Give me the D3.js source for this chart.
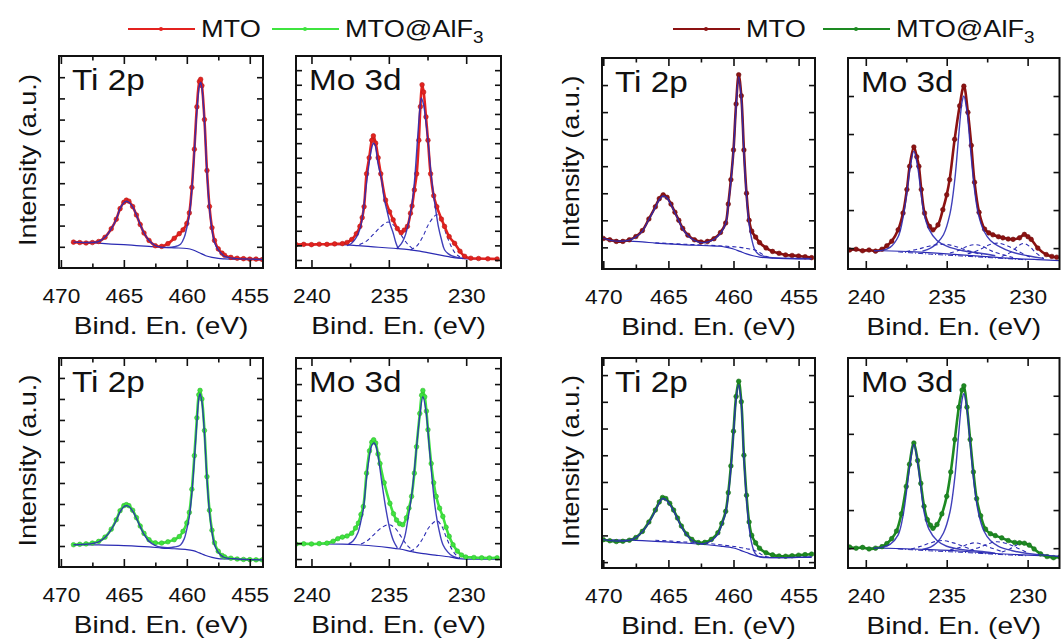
<!DOCTYPE html>
<html>
<head>
<meta charset="utf-8">
<script src="https://cdn.jsdelivr.net/npm/d3@7"></script>
<style>
  body { margin: 0; background: #fff; }
  svg { display: block; }
  text { font-family: "Liberation Sans", Arial, sans-serif; fill: #111; }
</style>
</head>
<body>
<div id="chart"></div>
<script>
// ---- legend / labels ----
const seriesNames = ["MTO", "MTO@AlF"];
const regionLabels = ["Ti 2p", "Mo 3d"];
const tiMajorTicks = [470, 465, 460, 455];
const tiMinorTicks = [467.5, 462.5, 457.5];
const moMajorTicks = [240, 235, 230];
const moMinorTicks = [237.5, 232.5];

// ---- left group, MTO (top row) ----  [binding energy, intensity a.u.]
const leftMtoTi = [[469.0,0.22],[468.5,0.2],[468.0,0.18],[467.5,0.2],[467.0,0.25],[466.5,0.45],[466.0,0.85],[465.6,1.3],[465.3,1.8],[465.0,2.1],[464.8,2.2],[464.6,2.15],[464.3,1.9],[464.0,1.5],[463.7,1.05],[463.4,0.65],[463.0,0.3],[462.5,0.05],[462.0,0.02],[461.5,0.15],[461.0,0.4],[460.6,0.62],[460.3,0.8],[460.0,1.1],[459.8,1.6],[459.6,2.8],[459.4,4.6],[459.2,6.6],[459.0,7.8],[458.9,7.9],[458.8,7.6],[458.6,6.0],[458.4,3.6],[458.2,1.9],[458.0,0.9],[457.8,0.3],[457.5,-0.1],[457.2,-0.3],[457.0,-0.4],[456.5,-0.5],[456.0,-0.54],[455.5,-0.56],[455.0,-0.58],[454.5,-0.58],[454.0,-0.6]];
const leftMtoTiFit = [[469.0,0.22],[468.0,0.2],[467.0,0.25],[466.5,0.45],[466.0,0.85],[465.6,1.3],[465.3,1.8],[465.0,2.08],[464.8,2.15],[464.6,2.1],[464.3,1.88],[464.0,1.5],[463.7,1.05],[463.4,0.65],[463.0,0.3],[462.5,0.06],[462.0,-0.02],[461.5,-0.03],[461.0,0.0],[460.5,0.12],[460.2,0.45],[460.0,0.9],[459.8,1.5],[459.6,2.7],[459.4,4.5],[459.2,6.4],[459.0,7.6],[458.9,7.75],[458.8,7.5],[458.6,5.9],[458.4,3.5],[458.2,1.8],[458.0,0.8],[457.8,0.2],[457.5,-0.15],[457.2,-0.35],[457.0,-0.45],[456.5,-0.52],[456.0,-0.56],[455.0,-0.58],[454.0,-0.6]];
const leftMtoTiBg = [[469.0,0.22],[468,0.2],[467,0.17],[466,0.13],[465,0.1],[464,0.06],[463,0.02],[462,-0.02],[461,-0.05],[460,-0.08],[459.5,-0.15],[459,-0.28],[458.5,-0.42],[458,-0.5],[457.5,-0.55],[457,-0.57],[456,-0.59],[455,-0.6]];

const leftMtoMo = [[241.0,1.05],[240.5,1.07],[240.0,1.05],[239.5,1.08],[239.0,1.07],[238.5,1.1],[238.0,1.12],[237.7,1.2],[237.4,1.4],[237.1,1.8],[236.87,2.3],[236.72,2.9],[236.6,3.65],[236.44,5.9],[236.27,7.0],[236.1,8.2],[236.0,8.5],[235.85,8.0],[235.69,7.0],[235.52,5.9],[235.21,4.1],[234.95,3.3],[234.72,2.75],[234.45,2.15],[234.2,1.87],[234.0,2.05],[233.8,2.3],[233.6,3.2],[233.5,3.7],[233.35,4.8],[233.2,5.9],[233.06,8.2],[232.96,10.5],[232.85,12.0],[232.75,11.5],[232.6,9.8],[232.47,8.2],[232.3,5.9],[232.1,4.4],[231.9,3.65],[231.6,2.8],[231.4,2.3],[231.1,1.6],[230.75,1.14],[230.4,0.6],[230.1,0.25],[229.7,0.12],[229.2,0.1],[228.6,0.08],[228.0,0.07]];
const leftMtoMoPeakA = [[237.7,0.98],[237.4,1.15],[237.1,1.55],[236.87,2.1],[236.7,3.0],[236.55,4.3],[236.4,5.6],[236.25,6.8],[236.1,7.7],[236.0,8.0],[235.9,7.9],[235.7,6.6],[235.47,5.5],[235.3,4.2],[235.08,3.2],[234.9,2.4],[234.72,1.85],[234.55,1.2],[234.4,0.78]];
const leftMtoMoPeakB = [[234.5,0.76],[234.2,1.1],[234.0,1.5],[233.8,2.2],[233.53,3.65],[233.35,5.3],[233.15,8.2],[233.0,10.3],[232.9,11.1],[232.75,10.6],[232.6,9.4],[232.47,8.2],[232.3,6.2],[232.14,4.7],[231.95,3.3],[231.8,2.3],[231.6,1.4],[231.4,0.7],[231.15,0.42],[230.95,0.3],[230.6,0.18],[230.2,0.1]];
const leftMtoMoDashA = [[236.9,1.05],[236.5,1.25],[236.0,1.75],[235.5,2.3],[235.05,2.6],[234.6,2.3],[234.2,1.7],[233.8,1.1],[233.4,0.72]];
const leftMtoMoDashB = [[233.6,0.68],[233.2,0.95],[232.8,1.6],[232.4,2.5],[231.9,3.1],[231.6,2.7],[231.3,1.8],[231.0,1.0],[230.7,0.45],[230.4,0.2]];
const leftMtoMoBg = [[241,1.05],[239,1.07],[238,1.05],[237,0.98],[236,0.9],[235,0.82],[234.4,0.78],[234,0.74],[233.5,0.68],[233,0.6],[232.5,0.5],[232,0.4],[231.5,0.3],[231,0.2],[230.5,0.12],[230,0.08],[229,0.07],[228,0.07]];

// ---- left group, MTO@AlF3 (bottom row) ----
const leftAlfTi = [[469.0,0.06],[468.5,0.08],[468.0,0.1],[467.5,0.14],[467.0,0.22],[466.5,0.42],[466.0,0.8],[465.6,1.25],[465.3,1.68],[465.0,1.92],[464.8,1.97],[464.6,1.92],[464.3,1.7],[464.0,1.35],[463.7,0.95],[463.4,0.6],[463.0,0.3],[462.5,0.15],[462.0,0.14],[461.5,0.2],[461.0,0.3],[460.6,0.45],[460.3,0.7],[460.0,1.1],[459.8,1.6],[459.6,2.7],[459.4,4.3],[459.2,6.1],[459.05,7.2],[458.95,7.41],[458.8,7.0],[458.6,5.5],[458.4,3.3],[458.2,1.7],[458.0,0.75],[457.8,0.15],[457.5,-0.25],[457.2,-0.45],[457.0,-0.52],[456.5,-0.58],[456.0,-0.62],[455.5,-0.64],[455.0,-0.65],[454.5,-0.66],[454.0,-0.66]];
const leftAlfTiFit = [[469.0,0.06],[468.0,0.08],[467.0,0.2],[466.5,0.4],[466.0,0.78],[465.6,1.22],[465.3,1.62],[465.0,1.87],[464.8,1.92],[464.6,1.88],[464.3,1.66],[464.0,1.32],[463.7,0.92],[463.4,0.55],[463.0,0.22],[462.5,0.02],[462.0,-0.06],[461.5,-0.08],[461.0,-0.05],[460.5,0.05],[460.2,0.35],[460.0,0.8],[459.8,1.4],[459.6,2.5],[459.4,4.1],[459.2,5.9],[459.05,7.0],[458.95,7.25],[458.8,6.85],[458.6,5.35],[458.4,3.2],[458.2,1.6],[458.0,0.65],[457.8,0.05],[457.5,-0.3],[457.2,-0.48],[457.0,-0.55],[456.0,-0.62],[455.0,-0.65],[454.0,-0.66]];
const leftAlfTiBg = [[469.0,0.06],[467,0.05],[465,0.02],[463,-0.04],[462,-0.1],[461,-0.13],[460,-0.17],[459.5,-0.22],[459,-0.33],[458.5,-0.45],[458,-0.54],[457.5,-0.6],[457,-0.62],[456,-0.64],[455,-0.65]];

const leftAlfMo = [[241.0,0.94],[240.5,0.96],[240.0,0.95],[239.5,0.97],[239.0,1.0],[238.6,1.12],[238.3,1.28],[238.0,1.38],[237.7,1.45],[237.4,1.62],[237.15,1.95],[236.97,2.26],[236.8,2.8],[236.65,3.3],[236.44,5.4],[236.25,6.8],[236.1,7.35],[235.98,7.5],[235.85,7.3],[235.7,6.6],[235.57,6.0],[235.3,4.8],[234.93,3.5],[234.7,2.85],[234.5,2.45],[234.3,2.22],[234.1,2.16],[233.86,2.6],[233.7,3.2],[233.53,3.94],[233.35,5.4],[233.21,7.06],[233.0,9.15],[232.88,10.3],[232.8,10.6],[232.68,10.2],[232.57,9.3],[232.47,8.13],[232.26,6.0],[232.1,4.8],[231.94,3.94],[231.72,3.2],[231.51,2.68],[231.3,2.0],[231.1,1.43],[230.85,0.9],[230.57,0.5],[230.3,0.25],[230.03,0.13],[229.5,0.1],[229.0,0.08],[228.5,0.07],[228.0,0.08]];
const leftAlfMoPeakA = [[237.6,0.95],[237.3,1.15],[237.0,1.65],[236.8,2.4],[236.65,3.1],[236.45,5.0],[236.25,6.5],[236.1,7.15],[235.95,7.3],[235.8,7.0],[235.65,6.2],[235.45,4.8],[235.2,3.2],[234.95,1.95],[234.7,1.15],[234.45,0.7]];
const leftAlfMoPeakB = [[234.3,0.65],[234.0,1.3],[233.75,2.6],[233.5,4.2],[233.25,6.6],[233.0,9.0],[232.8,10.2],[232.6,9.3],[232.4,7.2],[232.2,5.0],[232.0,3.2],[231.75,1.8],[231.5,0.9],[231.2,0.45],[230.9,0.2],[230.5,0.05]];
const leftAlfMoDashA = [[236.8,0.95],[236.4,1.15],[236.0,1.5],[235.5,1.95],[235.0,2.16],[234.6,1.95],[234.2,1.4],[233.8,0.85],[233.4,0.5]];
const leftAlfMoDashB = [[233.6,0.5],[233.2,0.75],[232.8,1.3],[232.4,2.0],[231.9,2.4],[231.6,2.1],[231.3,1.4],[231.0,0.75],[230.7,0.3],[230.4,0.08]];
const leftAlfMoBg = [[241,0.94],[238,0.94],[237,0.9],[236,0.82],[235,0.72],[234.3,0.63],[233.5,0.46],[233,0.37],[232,0.25],[231,0.12],[230.5,0.03],[230,0.0],[228,0.0]];

// ---- right group, MTO (top row) ----
const rightMtoTi = [[470.0,0.33],[469.5,0.28],[469.0,0.22],[468.5,0.22],[468.0,0.28],[467.5,0.4],[467.0,0.62],[466.5,1.05],[466.0,1.5],[465.7,1.8],[465.4,1.94],[465.1,1.85],[464.8,1.6],[464.5,1.3],[464.2,1.0],[463.9,0.7],[463.5,0.45],[463.0,0.28],[462.5,0.2],[462.0,0.22],[461.5,0.32],[461.0,0.55],[460.6,0.9],[460.4,1.6],[460.2,2.5],[460.0,3.6],[459.8,5.3],[459.6,6.38],[459.4,5.6],[459.2,3.6],[459.0,2.0],[458.8,1.0],[458.6,0.6],[458.3,0.38],[458.0,0.18],[457.5,-0.02],[457.0,-0.15],[456.5,-0.22],[456.0,-0.28],[455.5,-0.3],[455.0,-0.32],[454.5,-0.35],[454.0,-0.38]];
const rightMtoTiFit = [[470.0,0.33],[469.0,0.23],[468.0,0.27],[467.5,0.39],[467.0,0.6],[466.5,1.03],[466.0,1.48],[465.7,1.77],[465.4,1.9],[465.1,1.82],[464.8,1.58],[464.5,1.28],[464.2,0.98],[463.9,0.68],[463.5,0.43],[463.0,0.26],[462.5,0.18],[462.0,0.2],[461.5,0.3],[461.0,0.52],[460.6,0.88],[460.4,1.55],[460.2,2.45],[460.0,3.55],[459.8,5.2],[459.6,6.3],[459.4,5.5],[459.2,3.5],[459.0,1.9],[458.8,0.85],[458.6,0.3],[458.4,-0.05],[458.2,-0.2],[458.0,-0.28],[457.5,-0.35],[457.0,-0.38],[456.0,-0.4],[455.0,-0.41],[454.0,-0.42]];
const rightMtoTiDash = [[466,0.17],[464,0.12],[462,0.08],[460.5,0.04],[459.5,0.0],[459.0,-0.04],[458.6,-0.07],[458.2,-0.13],[457.8,-0.25],[457.4,-0.35],[457,-0.4]];
const rightMtoTiBg = [[470.0,0.3],[469,0.26],[468,0.23],[467,0.2],[466,0.16],[465,0.13],[464,0.1],[463,0.08],[462,0.06],[461,0.04],[460.5,0.0],[460,-0.06],[459.5,-0.15],[459,-0.24],[458.5,-0.31],[458,-0.36],[457,-0.4],[456,-0.42],[454,-0.43]];

const rightMtoMo = [[241.0,-0.05],[240.6,-0.03],[240.2,-0.07],[239.8,-0.05],[239.4,-0.08],[239.0,-0.03],[238.7,0.06],[238.4,0.18],[238.0,0.48],[237.7,0.92],[237.46,1.54],[237.29,2.15],[237.03,2.66],[236.85,2.4],[236.72,2.15],[236.57,1.54],[236.37,0.92],[236.06,0.57],[235.85,0.48],[235.54,0.61],[235.24,1.01],[235.0,1.4],[234.82,1.8],[234.51,2.86],[234.2,3.74],[233.94,4.26],[233.69,3.57],[233.48,2.7],[233.28,1.73],[233.0,0.94],[232.66,0.5],[232.4,0.4],[232.15,0.35],[231.8,0.3],[231.53,0.27],[231.2,0.24],[230.9,0.23],[230.5,0.27],[230.2,0.36],[229.98,0.3],[229.78,0.23],[229.37,0.0],[228.85,-0.17],[228.5,-0.22],[228.2,-0.24]];
const rightMtoMoPeakA = [[239.5,-0.07],[239.0,-0.06],[238.5,0.02],[238.0,0.3],[237.7,0.8],[237.45,1.5],[237.25,2.15],[237.03,2.55],[236.8,2.15],[236.6,1.5],[236.4,0.9],[236.1,0.5],[235.6,0.2],[235.0,0.05],[234.0,-0.07],[233.0,-0.13],[232.0,-0.2]];
const rightMtoMoPeakB = [[236.5,-0.08],[236.0,0.0],[235.6,0.13],[235.2,0.35],[234.8,0.9],[234.5,1.8],[234.25,3.0],[234.05,3.85],[233.94,4.0],[233.75,3.6],[233.55,2.7],[233.3,1.6],[233.05,0.9],[232.7,0.45],[232.3,0.2],[231.8,0.05],[231.0,-0.1],[230.0,-0.2],[229.0,-0.27]];
const rightMtoMoDash1 = [[237.5,-0.09],[236.8,-0.03],[236.1,0.05],[235.24,0.1],[234.5,0.05],[233.8,-0.05],[232.8,-0.18]];
const rightMtoMoDash2 = [[234.8,-0.13],[234.2,-0.05],[233.7,0.05],[233.28,0.09],[232.8,0.05],[232.2,-0.08],[230.9,-0.25]];
const rightMtoMoDash3 = [[233.7,-0.15],[233.0,-0.05],[232.4,0.08],[231.84,0.13],[231.2,0.05],[230.6,-0.08],[229.8,-0.25]];
const rightMtoMoDash4 = [[231.6,-0.22],[231.0,-0.1],[230.6,0.05],[230.25,0.12],[229.9,0.05],[229.5,-0.12],[229.0,-0.28]];
const rightMtoMoBg = [[241.1,-0.05],[239,-0.07],[237,-0.1],[235,-0.15],[233,-0.21],[231,-0.27],[229,-0.31],[228,-0.33]];
const rightMtoMoBg2 = [[238,-0.1],[236,-0.16],[234,-0.21],[232,-0.26],[230,-0.31]];

// ---- right group, MTO@AlF3 (bottom row) ----
const rightAlfTi = [[470.0,0.84],[469.5,0.8],[469.0,0.77],[468.5,0.78],[468.0,0.82],[467.5,0.92],[467.0,1.15],[466.5,1.5],[466.0,1.95],[465.7,2.25],[465.45,2.42],[465.2,2.38],[464.9,2.2],[464.6,1.95],[464.3,1.65],[464.0,1.35],[463.6,1.05],[463.2,0.85],[462.7,0.73],[462.2,0.74],[461.7,0.85],[461.2,1.1],[460.9,1.45],[460.6,1.9],[460.4,2.6],[460.2,3.6],[460.0,4.9],[459.8,6.2],[459.6,6.77],[459.4,6.0],[459.2,4.0],[459.0,2.5],[458.8,1.5],[458.6,1.0],[458.3,0.72],[458.0,0.52],[457.5,0.35],[457.0,0.27],[456.5,0.23],[456.0,0.22],[455.5,0.24],[455.0,0.26],[454.5,0.28],[454.0,0.3]];
const rightAlfTiFit = [[470.0,0.84],[469.0,0.79],[468.0,0.82],[467.5,0.92],[467.0,1.14],[466.5,1.48],[466.0,1.92],[465.7,2.22],[465.45,2.38],[465.2,2.34],[464.9,2.16],[464.6,1.92],[464.3,1.62],[464.0,1.32],[463.6,1.02],[463.2,0.82],[462.7,0.7],[462.2,0.7],[461.7,0.8],[461.2,1.05],[460.9,1.4],[460.6,1.85],[460.4,2.5],[460.2,3.5],[460.0,4.8],[459.8,6.1],[459.6,6.64],[459.4,5.9],[459.2,3.9],[459.0,2.35],[458.8,1.3],[458.6,0.7],[458.4,0.38],[458.2,0.25],[458.0,0.2],[457.5,0.17],[457.0,0.17],[456.0,0.17],[455.0,0.18],[454.0,0.2]];
const rightAlfTiDash = [[466,0.82],[464,0.76],[462,0.7],[460.5,0.62],[459.5,0.55],[459,0.5],[458.6,0.47],[458.3,0.42],[458,0.33],[457.6,0.22],[457.2,0.17]];
const rightAlfTiBg = [[470,0.84],[468,0.82],[466,0.78],[464,0.72],[462,0.65],[461,0.6],[460,0.53],[459.5,0.45],[459,0.36],[458.5,0.27],[458,0.2],[457,0.17],[456,0.17],[454,0.18]];

const rightAlfMo = [[241.0,0.03],[240.6,0.0],[240.2,0.02],[239.8,-0.02],[239.4,0.0],[239.0,0.04],[238.7,0.12],[238.4,0.25],[238.1,0.45],[237.8,0.9],[237.5,1.62],[237.3,2.2],[237.03,2.76],[236.8,2.3],[236.6,1.7],[236.4,1.1],[236.2,0.75],[236.0,0.6],[235.85,0.52],[235.6,0.62],[235.3,0.9],[235.0,1.36],[234.75,2.0],[234.5,2.85],[234.25,3.7],[234.05,4.15],[233.94,4.26],[233.75,3.7],[233.55,2.85],[233.35,2.0],[233.15,1.3],[232.9,0.85],[232.6,0.5],[232.3,0.38],[232.0,0.33],[231.6,0.27],[231.2,0.2],[230.8,0.15],[230.5,0.14],[230.2,0.13],[229.9,0.08],[229.6,-0.02],[229.2,-0.15],[228.8,-0.22],[228.4,-0.25],[228.0,-0.23]];
const rightAlfMoPeakA = [[239.5,0.0],[239.0,0.02],[238.5,0.1],[238.0,0.35],[237.7,0.85],[237.45,1.6],[237.25,2.25],[237.03,2.72],[236.8,2.25],[236.6,1.6],[236.4,0.95],[236.1,0.5],[235.6,0.2],[235.0,0.05],[234.0,-0.04],[233.0,-0.08],[232.0,-0.13]];
const rightAlfMoPeakB = [[236.5,-0.03],[236.0,0.03],[235.6,0.15],[235.2,0.4],[234.8,0.95],[234.5,1.85],[234.25,3.05],[234.05,3.9],[233.94,4.06],[233.75,3.65],[233.55,2.75],[233.3,1.65],[233.05,0.95],[232.7,0.45],[232.3,0.2],[231.8,0.05],[231.0,-0.06],[230.0,-0.14],[229.0,-0.18],[228.0,-0.22]];
const rightAlfMoDash1 = [[237.2,-0.02],[236.6,0.05],[236.0,0.14],[235.3,0.2],[234.6,0.14],[234.0,0.05],[233.3,-0.06]];
const rightAlfMoDash2 = [[234.8,-0.05],[234.2,0.02],[233.7,0.1],[233.3,0.14],[232.8,0.1],[232.2,0.0],[231.5,-0.1]];
const rightAlfMoDash3 = [[233.6,-0.06],[233.0,0.02],[232.4,0.12],[231.9,0.17],[231.3,0.12],[230.7,0.02],[230.1,-0.1]];
const rightAlfMoDash4 = [[231.6,-0.1],[231.1,-0.02],[230.6,0.1],[230.25,0.15],[229.9,0.08],[229.5,-0.06],[229.0,-0.17]];
const rightAlfMoBg = [[241,0.0],[239,0.0],[238,-0.01],[236,-0.04],[234,-0.08],[232,-0.14],[230,-0.18],[228,-0.22]];
const rightAlfMoBg2 = [[238,-0.02],[236,-0.07],[234,-0.11],[232,-0.16],[230,-0.2]];

// ---- drawing ----
const W = 1061, H = 639;
const FIT = "#2b2bb3";
const colors = { leftMto: "#e3221f", leftAlf: "#3fe43f", rightMto: "#8c1212", rightAlf: "#1d8a22" };

const svg = d3.select("#chart").append("svg").attr("width", W).attr("height", H);

const ti = { major: tiMajorTicks, minor: tiMinorTicks };
const mo = { major: moMajorTicks, minor: moMinorTicks };

const panels = [
  { box: [59, 56, 263, 268], xd: [470.15, 453.95], yd: [-1, 9], ny: 8, ax: ti, label: regionLabels[0], color: colors.leftMto,
    data: leftMtoTi, solid: [leftMtoTiFit], dash: [], bg: [leftMtoTiBg], title: true },
  { box: [296, 56, 501, 268], xd: [241.0, 227.75], yd: [-0.55, 13.97], ny: 13, ax: mo, label: regionLabels[1], color: colors.leftMto,
    data: leftMtoMo, solid: [leftMtoMoPeakA, leftMtoMoPeakB], dash: [leftMtoMoDashA, leftMtoMoDashB], bg: [leftMtoMoBg] },
  { box: [602, 58, 815, 269], xd: [470.1, 453.74], yd: [-0.8, 7.0], ny: 6, ax: ti, label: regionLabels[0], color: colors.rightMto,
    data: rightMtoTi, solid: [rightMtoTiFit], dash: [rightMtoTiDash], bg: [rightMtoTiBg], title: true },
  { box: [848, 58, 1059.5, 269], xd: [241.1, 228.03], yd: [-0.55, 5.0], ny: 4, ax: mo, label: regionLabels[1], color: colors.rightMto,
    data: rightMtoMo, solid: [rightMtoMoPeakA, rightMtoMoPeakB], dash: [rightMtoMoDash1, rightMtoMoDash2, rightMtoMoDash3, rightMtoMoDash4],
    bg: [rightMtoMoBg], bg2: rightMtoMoBg2 },
  { box: [59, 358, 263, 567], xd: [470.15, 453.95], yd: [-1, 8.95], ny: 8, ax: ti, label: regionLabels[0], color: colors.leftAlf,
    data: leftAlfTi, solid: [leftAlfTiFit], dash: [], bg: [leftAlfTiBg], title: true },
  { box: [296, 358, 501, 567], xd: [241.0, 227.75], yd: [-0.5, 12.64], ny: 12, ax: mo, label: regionLabels[1], color: colors.leftAlf,
    data: leftAlfMo, solid: [leftAlfMoPeakA, leftAlfMoPeakB], dash: [leftAlfMoDashA, leftAlfMoDashB], bg: [leftAlfMoBg] },
  { box: [602, 358, 815, 568], xd: [470.1, 453.74], yd: [-0.22, 7.64], ny: 7, ax: ti, label: regionLabels[0], color: colors.rightAlf,
    data: rightAlfTi, solid: [rightAlfTiFit], dash: [rightAlfTiDash], bg: [rightAlfTiBg], title: true },
  { box: [848, 358, 1059.5, 568], xd: [241.1, 228.03], yd: [-0.52, 4.99], ny: 4, ax: mo, label: regionLabels[1], color: colors.rightAlf,
    data: rightAlfMo, solid: [rightAlfMoPeakA, rightAlfMoPeakB], dash: [rightAlfMoDash1, rightAlfMoDash2, rightAlfMoDash3, rightAlfMoDash4],
    bg: [rightAlfMoBg], bg2: rightAlfMoBg2 }
];

function scaledText(parent, x, y, str, size, sx, anchor) {
  return parent.append("text")
    .attr("transform", `translate(${x},${y}) scale(${sx},1)`)
    .attr("text-anchor", anchor || "start")
    .attr("font-size", size)
    .text(str);
}

panels.forEach((p, i) => {
  const [x0, y0, x1, y1] = p.box;
  const x = d3.scaleLinear().domain(p.xd).range([x0, x1]);
  const y = d3.scaleLinear().domain(p.yd).range([y1, y0]);
  const g = svg.append("g");

  const clipId = "clip" + i;
  svg.append("clipPath").attr("id", clipId)
    .append("rect").attr("x", x0).attr("y", y0).attr("width", x1 - x0).attr("height", y1 - y0);
  const plot = g.append("g").attr("clip-path", `url(#${clipId})`);

  const line = d3.line().x(d => x(d[0])).y(d => y(d[1])).curve(d3.curveCatmullRom.alpha(0.5));

  // background lines
  p.bg.forEach(b => plot.append("path").datum(b).attr("d", line)
    .attr("fill", "none").attr("stroke", FIT).attr("stroke-width", 1.2));
  if (p.bg2) plot.append("path").datum(p.bg2).attr("d", line)
    .attr("fill", "none").attr("stroke", FIT).attr("stroke-width", 1)
    .attr("stroke-dasharray", "5,2,1,2");

  // dashed components
  p.dash.forEach(dd => plot.append("path").datum(dd).attr("d", line)
    .attr("fill", "none").attr("stroke", FIT).attr("stroke-width", 1.1)
    .attr("stroke-dasharray", "4,3"));

  // measured data
  plot.append("path").datum(p.data).attr("d", line)
    .attr("fill", "none").attr("stroke", p.color).attr("stroke-width", 2.6);
  plot.selectAll("circle.pt").data(p.data).join("circle")
    .attr("class", "pt")
    .attr("cx", d => x(d[0])).attr("cy", d => y(d[1])).attr("r", 2.3)
    .attr("fill", p.color).attr("stroke", d3.color(p.color).darker(0.6)).attr("stroke-width", 0.6);

  // fitted components
  p.solid.forEach(s => plot.append("path").datum(s).attr("d", line)
    .attr("fill", "none").attr("stroke", FIT).attr("stroke-width", 1.4).attr("opacity", 0.9));

  // axes: ticks inward on all sides
  const majorLen = 8, minorLen = 4.5, yLen = 6;
  const bottom = g.append("g").attr("transform", `translate(0,${y1})`)
    .call(d3.axisBottom(x).tickValues(p.ax.major).tickSize(-majorLen).tickPadding(12 + majorLen).tickFormat(d3.format("d")));
  bottom.selectAll("text").attr("font-size", 21).attr("transform", "scale(1.08,1)");
  g.append("g").attr("transform", `translate(0,${y1})`)
    .call(d3.axisBottom(x).tickValues(p.ax.minor).tickSize(-minorLen).tickFormat(""));
  g.append("g").attr("transform", `translate(0,${y0})`)
    .call(d3.axisTop(x).tickValues(p.ax.major).tickSize(-majorLen).tickFormat(""));
  g.append("g").attr("transform", `translate(0,${y0})`)
    .call(d3.axisTop(x).tickValues(p.ax.minor).tickSize(-minorLen).tickFormat(""));
  const yTicks = d3.range(0, p.ny + 1);
  g.append("g").attr("transform", `translate(${x0},0)`)
    .call(d3.axisLeft(y).tickValues(yTicks).tickSize(-yLen).tickFormat(""));
  g.append("g").attr("transform", `translate(${x1},0)`)
    .call(d3.axisRight(y).tickValues(yTicks).tickSize(-yLen).tickFormat(""));
  g.selectAll(".domain").remove();
  g.selectAll(".tick line").attr("stroke", "#111").attr("stroke-width", 1.6);

  g.append("rect").attr("x", x0).attr("y", y0).attr("width", x1 - x0).attr("height", y1 - y0)
    .attr("fill", "none").attr("stroke", "#111").attr("stroke-width", 2);

  // panel label and axis titles
  scaledText(g, x0 + 13, y0 + 34, p.label, 30, 1.11);
  scaledText(g, (x0 + x1) / 2, y1 + 66, "Bind. En. (eV)", 23, 1.22, "middle");
  if (p.title) {
    g.append("text")
      .attr("transform", `translate(${x0 - 23},${(y0 + y1) / 2 - 2}) rotate(-90) scale(1.18,1)`)
      .attr("text-anchor", "middle").attr("font-size", 23)
      .text("Intensity (a.u.)");
  }
});

// legends
const legends = [
  { x: 128, c: [colors.leftMto, colors.leftAlf], gap: 144 },
  { x: 673, c: [colors.rightMto, colors.rightAlf], gap: 150 }
];
legends.forEach(L => {
  L.c.forEach((c, k) => {
    const lx = L.x + k * L.gap;
    const lg = svg.append("g");
    lg.append("line").attr("x1", lx).attr("x2", lx + 67).attr("y1", 29).attr("y2", 29)
      .attr("stroke", c).attr("stroke-width", 2);
    lg.append("circle").attr("cx", lx + 33).attr("cy", 29).attr("r", 2).attr("fill", c);
    const t = scaledText(lg, lx + 73, 37, seriesNames[k], 23, 1.18);
    if (k === 1) {
      t.append("tspan").attr("font-size", 16).attr("dy", 6).text("3");
    }
  });
});
</script>
</body>
</html>
